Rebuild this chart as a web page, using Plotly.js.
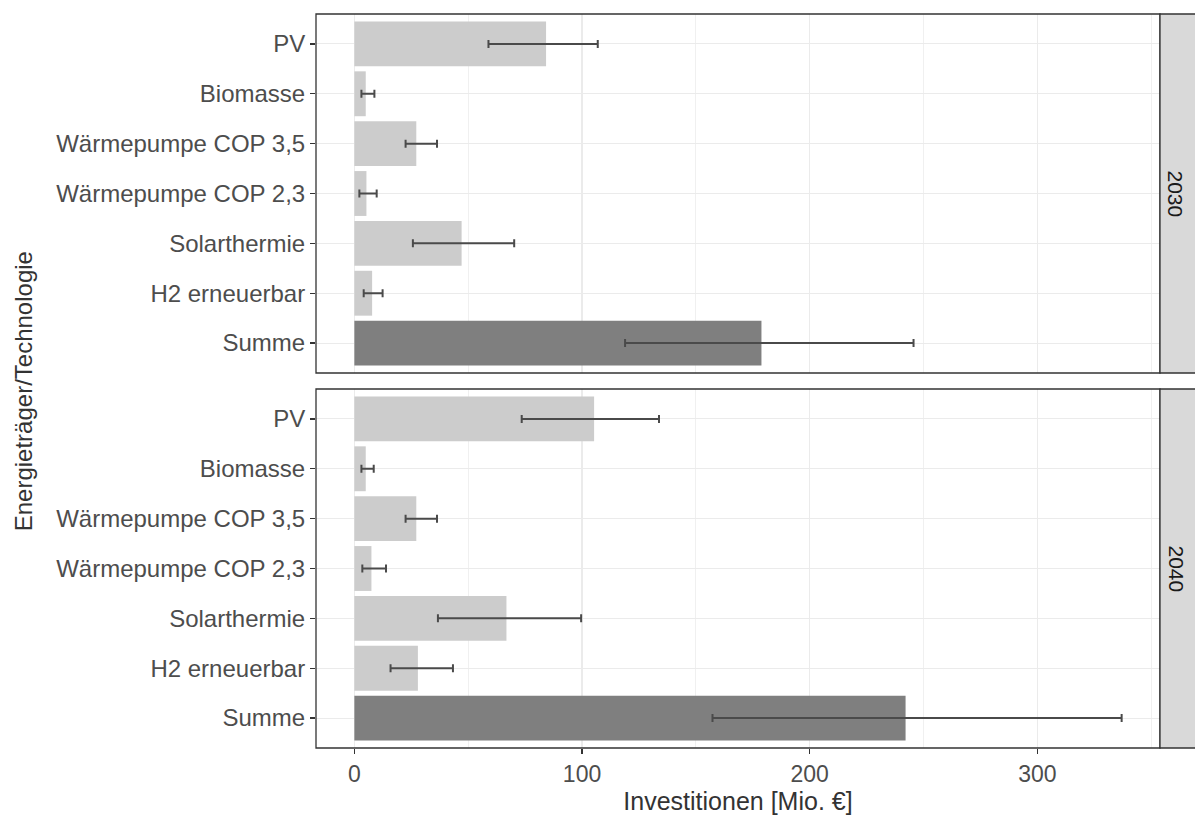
<!DOCTYPE html>
<html>
<head>
<meta charset="utf-8">
<script src="https://cdn.plot.ly/plotly-3.0.1.min.js"></script>
<style>html,body{margin:0;padding:0;background:#fff;}#chart{width:1195px;height:818px;}</style>
</head>
<body>
<div id="chart"></div>
<script>
// Categories (top to bottom as displayed)
const categories = ["PV", "Biomasse", "Wärmepumpe COP 3,5", "Wärmepumpe COP 2,3", "Solarthermie", "H2 erneuerbar", "Summe"];
const years = ["2030", "2040"];

// Investitionen [Mio. €]
const values2030 = [84.2, 5.0, 27.2, 5.3, 47.1, 7.8, 178.8];
const lower2030  = [58.9, 3.1, 22.5, 2.2, 25.7, 4.1, 118.9];
const upper2030  = [106.9, 8.8, 36.3, 9.8, 70.2, 12.4, 245.6];

const values2040 = [105.3, 5.0, 27.2, 7.5, 66.8, 27.9, 242.1];
const lower2040  = [73.5, 3.1, 22.5, 3.5, 36.7, 15.9, 157.3];
const upper2040  = [133.8, 8.5, 36.3, 13.9, 99.6, 43.3, 337.0];

const colorPart = "#cccccc";
const colorSum = "#7f7f7f";
const textColor = "#4d4d4d";
const lineColor = "#333333";
const gridColor = "#ebebeb";

function barTrace(vals, lo, hi, xa, ya) {
  return {
    type: "bar",
    orientation: "h",
    x: vals,
    y: categories,
    xaxis: xa,
    yaxis: ya,
    width: 0.9,
    marker: {color: categories.map(c => c === "Summe" ? colorSum : colorPart), line: {width: 0}},
    error_x: {
      type: "data",
      symmetric: false,
      array: vals.map((v, i) => hi[i] - v),
      arrayminus: vals.map((v, i) => v - lo[i]),
      color: "#4a4a4a",
      thickness: 2,
      width: 4
    },
    hoverinfo: "x+y",
    showlegend: false
  };
}

const data = [
  barTrace(values2030, lower2030, upper2030, "x2", "y2"),
  barTrace(values2040, lower2040, upper2040, "x", "y")
];

const topDom = [0.5109, 1];
const botDom = [0, 0.4891];
const xRange = [-16.85, 353.85];
const fontFam = "Liberation Sans, Arial, sans-serif";

const yBase = {
  type: "category",
  categoryorder: "array",
  categoryarray: categories.slice().reverse(),
  range: [-0.6, 6.6],
  showgrid: true,
  gridcolor: gridColor,
  gridwidth: 1,
  ticks: "outside",
  ticklen: 5,
  tickwidth: 1.3,
  tickcolor: lineColor,
  tickfont: {family: fontFam, size: 24, color: textColor},
  showline: false,
  zeroline: false,
  fixedrange: true
};

const xBase = {
  range: xRange,
  dtick: 100,
  tick0: 0,
  showgrid: true,
  gridcolor: gridColor,
  gridwidth: 1.5,
  minor: {dtick: 50, showgrid: true, gridcolor: "#f0f0f0", gridwidth: 1},
  zeroline: false,
  showline: false,
  fixedrange: true
};

const layout = {
  width: 1195,
  height: 818,
  margin: {l: 316, r: 35, t: 14, b: 70},
  paper_bgcolor: "#ffffff",
  plot_bgcolor: "#ffffff",
  bargap: 0.1,
  showlegend: false,
  xaxis: Object.assign({}, xBase, {
    anchor: "y",
    ticks: "outside",
    ticklen: 5,
    tickwidth: 1.3,
    tickcolor: lineColor,
    tickfont: {family: fontFam, size: 23, color: textColor},
    title: {text: "Investitionen [Mio. €]", font: {family: fontFam, size: 25, color: "#333333"}, standoff: 4}
  }),
  xaxis2: Object.assign({}, xBase, {anchor: "y2", matches: "x", showticklabels: false, ticks: ""}),
  yaxis: Object.assign({}, yBase, {domain: botDom, anchor: "x"}),
  yaxis2: Object.assign({}, yBase, {domain: topDom, anchor: "x2"}),
  shapes: [
    // panel borders
    {type: "rect", xref: "paper", yref: "paper", x0: 0, x1: 1, y0: topDom[0], y1: topDom[1], line: {color: lineColor, width: 1.3}, fillcolor: "rgba(0,0,0,0)", layer: "above"},
    {type: "rect", xref: "paper", yref: "paper", x0: 0, x1: 1, y0: botDom[0], y1: botDom[1], line: {color: lineColor, width: 1.3}, fillcolor: "rgba(0,0,0,0)", layer: "above"},
    // strips
    {type: "rect", xref: "paper", yref: "paper", x0: 1, x1: 1 + 36/844, y0: topDom[0], y1: topDom[1], line: {color: lineColor, width: 1.3}, fillcolor: "#d9d9d9", layer: "above"},
    {type: "rect", xref: "paper", yref: "paper", x0: 1, x1: 1 + 36/844, y0: botDom[0], y1: botDom[1], line: {color: lineColor, width: 1.3}, fillcolor: "#d9d9d9", layer: "above"}
  ],
  annotations: [
    {text: years[0], xref: "paper", yref: "paper", x: 1 + 16/844, y: (topDom[0] + topDom[1]) / 2, showarrow: false, textangle: 90, font: {family: fontFam, size: 21, color: "#1a1a1a"}, xanchor: "center", yanchor: "middle"},
    {text: years[1], xref: "paper", yref: "paper", x: 1 + 16/844, y: (botDom[0] + botDom[1]) / 2, showarrow: false, textangle: 90, font: {family: fontFam, size: 21, color: "#1a1a1a"}, xanchor: "center", yanchor: "middle"},
    {text: "Energieträger/Technologie", xref: "paper", yref: "paper", x: (23 - 316) / 844, y: 0.486, showarrow: false, textangle: -90, font: {family: fontFam, size: 24, color: "#333333"}, xanchor: "center", yanchor: "middle"}
  ]
};

Plotly.newPlot("chart", data, layout, {displayModeBar: false, staticPlot: true});
</script>
</body>
</html>
